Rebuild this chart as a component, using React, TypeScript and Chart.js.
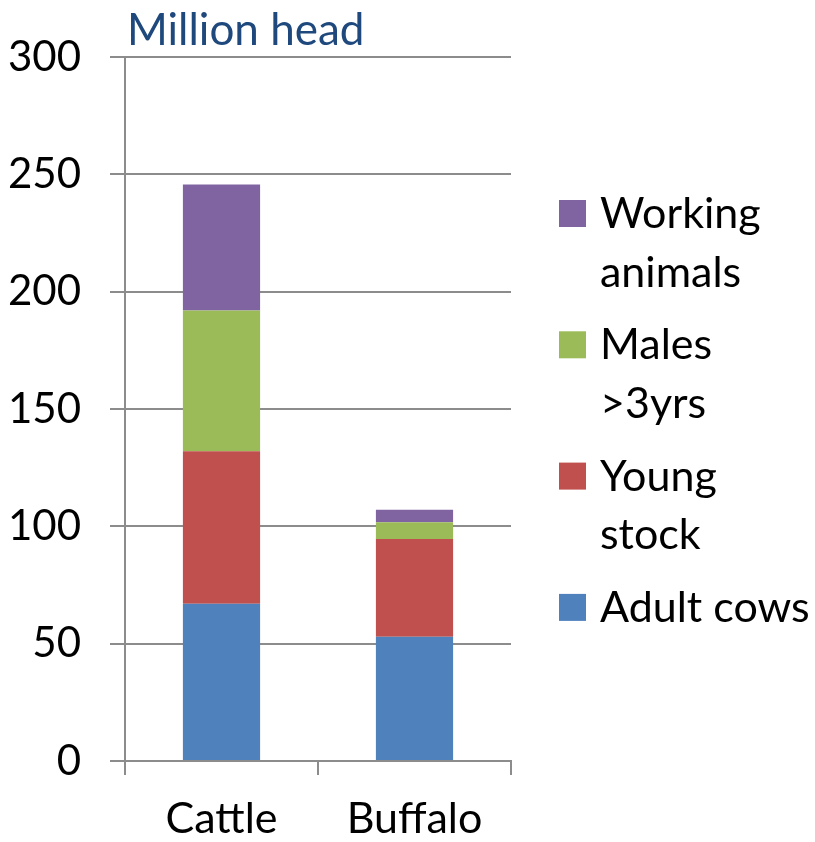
import React, { useEffect, useRef } from "react";
import { Chart, registerables } from "chart.js";

Chart.register(...registerables);

const categories = ["Cattle", "Buffalo"];
const seriesNames = ["Adult cows", "Young stock", "Males >3yrs", "Working animals"];
const adultCows = [67, 53];
const youngStock = [65, 41.6];
const males3yrs = [60, 7.1];
const workingAnimals = [53.7, 5.4];
const seriesColors = ["#4F81BD", "#C0504D", "#9BBB59", "#8064A2"];
const legendLines = [["Adult cows"], ["Young", "stock"], ["Males", ">3yrs"], ["Working", "animals"]];
const yTicks = { min: 0, max: 300, step: 50 };
const titleText = "Million head";

const FONT = "Lato, 'Open Sans', sans-serif";

const overlayPlugin = {
  id: "overlay",
  afterDraw(chart: any) {
    const ctx = chart.ctx;
    const area = chart.chartArea;
    ctx.save();
    ctx.font = `44px ${FONT}`;
    ctx.fillStyle = "#1F497D";
    ctx.textAlign = "left";
    ctx.textBaseline = "alphabetic";
    ctx.fillText(titleText, area.left + 2, 45);
    const ds = chart.data.datasets;
    const boxX = area.right + 48;
    const textX = area.right + 89;
    let baseline = 228;
    for (let i = ds.length - 1; i >= 0; i--) {
      const lines = legendLines[i];
      ctx.fillStyle = ds[i].backgroundColor;
      ctx.fillRect(boxX, baseline - 28, 27, 27);
      ctx.fillStyle = "#000";
      ctx.font = `43px ${FONT}`;
      lines.forEach((ln: string, k: number) => {
        ctx.fillText(ln, textX, baseline + k * 58.5);
      });
      baseline += 131.3;
    }
    ctx.restore();
  },
};

export default function App() {
  const ref = useRef<HTMLCanvasElement>(null);
  useEffect(() => {
    if (!ref.current) return;
    const chart = new Chart(ref.current, {
      type: "bar",
      data: {
        labels: categories,
        datasets: [adultCows, youngStock, males3yrs, workingAnimals].map((d, i) => ({
          label: seriesNames[i],
          data: d,
          backgroundColor: seriesColors[i],
          borderWidth: 0,
          categoryPercentage: 1,
          barPercentage: 0.4,
        })),
      },
      options: {
        animation: false,
        responsive: false,
        maintainAspectRatio: false,
        layout: { padding: { top: 57, right: 304, left: 0, bottom: 0 } },
        plugins: { legend: { display: false }, tooltip: { enabled: false }, title: { display: false } },
        scales: {
          x: {
            stacked: true,
            offset: true,
            grid: {
              offset: true,
              drawOnChartArea: false,
              drawTicks: true,
              tickLength: 14,
              color: "#8c8c8c",
              lineWidth: 2,
            },
            border: { display: true, color: "#8c8c8c", width: 2 },
            ticks: { color: "#000", font: { family: FONT, size: 43 }, padding: 18 },
            afterFit: (s: any) => {
              s.height = 81;
            },
          },
          y: {
            stacked: true,
            min: yTicks.min,
            max: yTicks.max,
            ticks: {
              stepSize: yTicks.step,
              color: "#000",
              font: { family: FONT, size: 42 },
              padding: 29,
            },
            grid: { color: "#8c8c8c", lineWidth: 2, tickLength: 15 },
            border: { display: true, color: "#8c8c8c", width: 2 },
            afterFit: (s: any) => {
              s.width = 125;
            },
          },
        },
      },
      plugins: [overlayPlugin],
    });
    return () => chart.destroy();
  }, []);
  return (
    <div style={{ position: "absolute", left: 0, top: 0, width: 815, height: 842, background: "#fff" }}>
      <canvas ref={ref} width={815} height={842} style={{ width: 815, height: 842 }} />
    </div>
  );
}
